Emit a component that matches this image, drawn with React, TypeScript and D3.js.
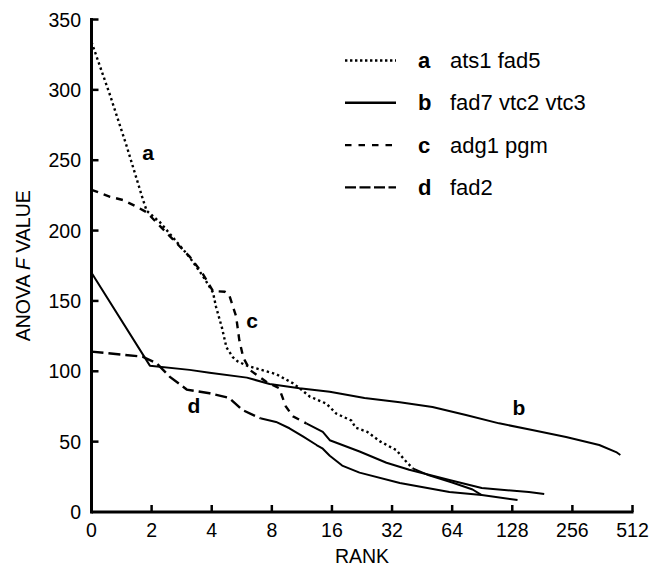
import React from "react";
import * as d3 from "d3";

// [rank, F value]
const seriesA: [number, number][] = [
  [1, 334], [1.24, 296], [1.5, 260], [1.81, 222], [1.89, 214], [2.2, 206], [2.67, 192],
  [3.1, 181], [3.6, 168], [4.06, 156], [4.2, 146], [4.5, 131], [4.74, 117], [5.1, 110],
  [5.4, 107], [6, 104], [6.7, 102], [8.4, 98], [10.2, 91.5], [11, 88], [12.4, 82],
  [15, 77], [16.8, 70], [20, 65], [21, 60], [24, 57], [28, 50], [33.6, 44], [37, 37],
  [40.6, 31], [49, 26], [64, 21], [81, 16], [90, 12],
];
const seriesB: [number, number][] = [
  [1, 170], [1.96, 104], [3.1, 101], [3.9, 99], [6, 95.5], [7.8, 91], [11, 88],
  [15.6, 85.5], [23.3, 81], [35, 78], [51, 74.6], [75, 69], [110, 63], [161, 58.3],
  [238, 53.3], [349, 47.6], [424, 42.6], [445, 40.5],
];
const seriesC: [number, number][] = [
  [1, 229], [1.24, 224], [1.44, 221.7], [1.68, 217], [1.89, 213], [2.28, 201],
  [2.67, 191], [3.1, 181.5], [3.6, 169.5], [4.06, 157], [4.65, 156.5], [4.9, 154],
  [5.3, 139], [5.5, 122], [5.75, 110], [6.2, 101], [7.5, 92.6], [8.7, 88], [9.4, 75],
  [10.2, 68], [11.9, 63], [14.4, 57], [15.6, 51], [22, 43], [30, 35], [39, 30],
  [62, 22.7], [90, 17], [155, 14.2], [185, 12.8],
];
const seriesD: [number, number][] = [
  [1, 114], [1.8, 110.4], [2.12, 105.7], [2.47, 96], [3.0, 87], [3.9, 84.4], [4.9, 81],
  [5.7, 72.5], [7, 66.6], [8.4, 64], [9.8, 59.5], [11.5, 53.5], [13.4, 47.6], [14.4, 45],
  [15.6, 40], [18, 33], [22, 28], [35, 20.6], [62, 14.2], [90, 12], [136, 8.5],
];

const xTickValues = [1, 2, 4, 8, 16, 32, 64, 128, 256, 512];
const xTickLabels = ["0", "2", "4", "8", "16", "32", "64", "128", "256", "512"];
const yTickValues = [0, 50, 100, 150, 200, 250, 300, 350];

const legendKeys = ["a", "b", "c", "d"];
const legendNames = ["ats1 fad5", "fad7 vtc2 vtc3", "adg1 pgm", "fad2"];

const FONT = "'Liberation Sans', Arial, Helvetica, sans-serif";

export default function App() {
  const W = 651, H = 571;
  const x = d3.scaleLog().base(2).domain([1, 512]).range([91.5, 632.5]);
  const y = d3.scaleLinear().domain([0, 350]).range([512, 19.5]);
  const line = d3.line<[number, number]>().x((d) => x(d[0])).y((d) => y(d[1]));

  const styles = [
    { data: seriesA, dash: "2.4,3", solidFrom: 40.6 },
    { data: seriesB, dash: "", solidFrom: 1 },
    { data: seriesC, dash: "7,6", solidFrom: 11.9 },
    { data: seriesD, dash: "12,5", solidFrom: 7 },
  ];
  const legendDash = ["2.4,2.6", "", "6.5,7", "11,3.5"];

  const splitAt = (data: [number, number][], r: number) => {
    const dashed = data.filter((d) => d[0] <= r);
    const solid = data.filter((d) => d[0] >= r);
    return [dashed, solid];
  };

  return (
    <svg width={W} height={H} style={{ display: "block", position: "absolute", left: 0, top: 0 }}
      fontFamily={FONT}>
      <rect width={W} height={H} fill="#fff" />
      {/* series */}
      {styles.map((s, i) => {
        if (!s.dash) {
          return <path key={i} d={line(s.data) || ""} fill="none" stroke="#000" strokeWidth={2} strokeLinejoin="round" />;
        }
        const [dashed, solid] = splitAt(s.data, s.solidFrom);
        return (
          <g key={i}>
            <path d={line(dashed) || ""} fill="none" stroke="#000" strokeWidth={2.4} strokeDasharray={s.dash} />
            {solid.length > 1 && (
              <path d={line(solid) || ""} fill="none" stroke="#000" strokeWidth={2} strokeLinejoin="round" />
            )}
          </g>
        );
      })}
      {/* axes */}
      <line x1={x(1)} x2={x(512) + 1} y1={y(0)} y2={y(0)} stroke="#000" strokeWidth={3} />
      <line x1={x(1)} x2={x(1)} y1={y(0) + 1.5} y2={y(350) - 1.5} stroke="#000" strokeWidth={3} />
      {xTickValues.map((v, i) => (
        <g key={"xt" + i}>
          {i > 0 && <line x1={x(v)} x2={x(v)} y1={y(0)} y2={y(0) - 7} stroke="#000" strokeWidth={2.5} />}
          <text x={x(v)} y={537} textAnchor="middle" fontSize={19.5}>{xTickLabels[i]}</text>
        </g>
      ))}
      {yTickValues.map((v, i) => (
        <g key={"yt" + i}>
          {i > 0 && <line x1={x(1)} x2={x(1) + 7} y1={y(v)} y2={y(v)} stroke="#000" strokeWidth={2.5} />}
          <text x={81} y={y(v) + 7} textAnchor="end" fontSize={19.5}>{v}</text>
        </g>
      ))}
      <text x={362} y={563} textAnchor="middle" fontSize={19.5}>RANK</text>
      <text transform={`translate(30, ${(y(0) + y(350)) / 2}) rotate(-90)`} textAnchor="middle" fontSize={19.5}>
        ANOVA <tspan fontStyle="italic">F</tspan> VALUE
      </text>
      {/* curve labels */}
      <text x={148} y={160} textAnchor="middle" fontSize={21} fontWeight="bold">a</text>
      <text x={519} y={415} textAnchor="middle" fontSize={21} fontWeight="bold">b</text>
      <text x={252} y={328} textAnchor="middle" fontSize={21} fontWeight="bold">c</text>
      <text x={194} y={413} textAnchor="middle" fontSize={21} fontWeight="bold">d</text>
      {/* legend */}
      {legendKeys.map((k, i) => {
        const by = 68 + i * 42.3;
        return (
          <g key={"lg" + i}>
            <line x1={345} x2={396} y1={by - 7.5} y2={by - 7.5} stroke="#000" strokeWidth={2.4}
              strokeDasharray={legendDash[i] || undefined} />
            <text x={418} y={by} fontSize={22} fontWeight="bold">{k}</text>
            <text x={450} y={by} fontSize={22}>{legendNames[i]}</text>
          </g>
        );
      })}
    </svg>
  );
}
